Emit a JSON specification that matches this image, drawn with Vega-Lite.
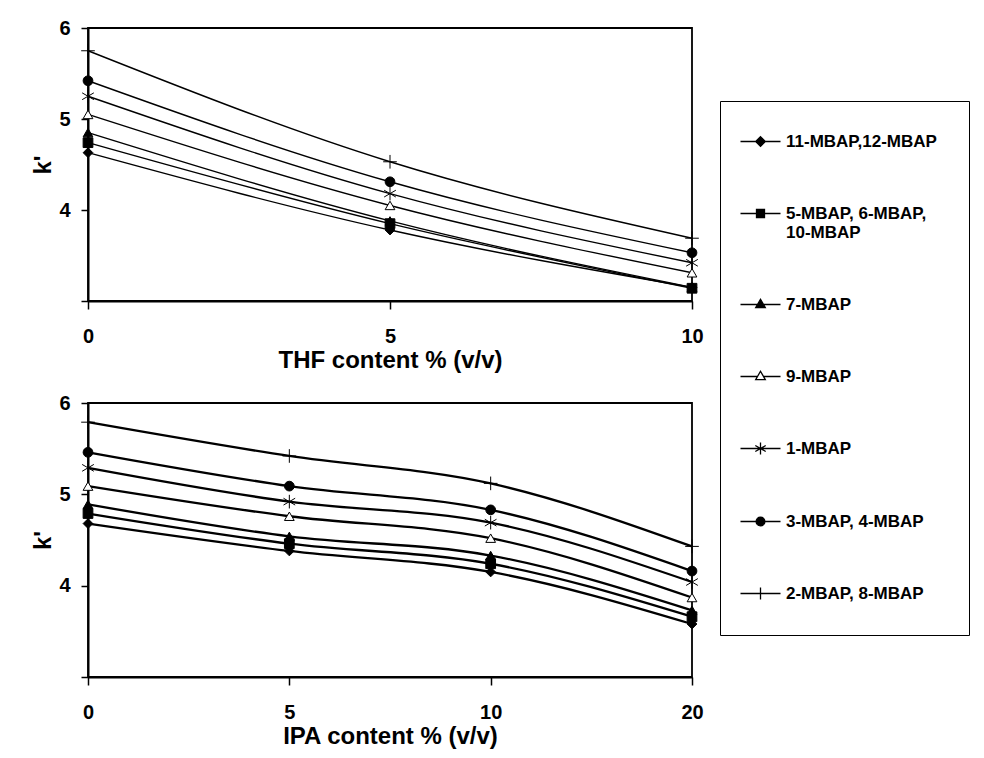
{
  "$schema": "https://vega.github.io/schema/vega-lite/v6.json",
  "background": "white",
  "padding": {"left": 30, "top": 17, "right": 0, "bottom": 0},
  "bounds": "flush",
  "spacing": 102,
  "datasets": {
    "thf": [
      {"series": "2-MBAP, 8-MBAP", "content": 0, "k": 5.75},
      {"series": "2-MBAP, 8-MBAP", "content": 5, "k": 4.53},
      {"series": "2-MBAP, 8-MBAP", "content": 10, "k": 3.69},
      {"series": "3-MBAP, 4-MBAP", "content": 0, "k": 5.42},
      {"series": "3-MBAP, 4-MBAP", "content": 5, "k": 4.31},
      {"series": "3-MBAP, 4-MBAP", "content": 10, "k": 3.53},
      {"series": "1-MBAP", "content": 0, "k": 5.25},
      {"series": "1-MBAP", "content": 5, "k": 4.18},
      {"series": "1-MBAP", "content": 10, "k": 3.42},
      {"series": "9-MBAP", "content": 0, "k": 5.05},
      {"series": "9-MBAP", "content": 5, "k": 4.05},
      {"series": "9-MBAP", "content": 10, "k": 3.31},
      {"series": "7-MBAP", "content": 0, "k": 4.85},
      {"series": "7-MBAP", "content": 5, "k": 3.88},
      {"series": "7-MBAP", "content": 10, "k": 3.15},
      {"series": "5-MBAP, 6-MBAP, 10-MBAP", "content": 0, "k": 4.74},
      {"series": "5-MBAP, 6-MBAP, 10-MBAP", "content": 5, "k": 3.85},
      {"series": "5-MBAP, 6-MBAP, 10-MBAP", "content": 10, "k": 3.14},
      {"series": "11-MBAP,12-MBAP", "content": 0, "k": 4.63},
      {"series": "11-MBAP,12-MBAP", "content": 5, "k": 3.78},
      {"series": "11-MBAP,12-MBAP", "content": 10, "k": 3.15}
    ],
    "ipa": [
      {"series": "2-MBAP, 8-MBAP", "content": 0, "k": 5.79},
      {"series": "2-MBAP, 8-MBAP", "content": 5, "k": 5.42},
      {"series": "2-MBAP, 8-MBAP", "content": 10, "k": 5.12},
      {"series": "2-MBAP, 8-MBAP", "content": 20, "k": 4.43},
      {"series": "3-MBAP, 4-MBAP", "content": 0, "k": 5.46},
      {"series": "3-MBAP, 4-MBAP", "content": 5, "k": 5.09},
      {"series": "3-MBAP, 4-MBAP", "content": 10, "k": 4.83},
      {"series": "3-MBAP, 4-MBAP", "content": 20, "k": 4.16},
      {"series": "1-MBAP", "content": 0, "k": 5.29},
      {"series": "1-MBAP", "content": 5, "k": 4.92},
      {"series": "1-MBAP", "content": 10, "k": 4.69},
      {"series": "1-MBAP", "content": 20, "k": 4.04},
      {"series": "9-MBAP", "content": 0, "k": 5.09},
      {"series": "9-MBAP", "content": 5, "k": 4.76},
      {"series": "9-MBAP", "content": 10, "k": 4.52},
      {"series": "9-MBAP", "content": 20, "k": 3.87},
      {"series": "7-MBAP", "content": 0, "k": 4.89},
      {"series": "7-MBAP", "content": 5, "k": 4.54},
      {"series": "7-MBAP", "content": 10, "k": 4.33},
      {"series": "7-MBAP", "content": 20, "k": 3.73},
      {"series": "5-MBAP, 6-MBAP, 10-MBAP", "content": 0, "k": 4.79},
      {"series": "5-MBAP, 6-MBAP, 10-MBAP", "content": 5, "k": 4.46},
      {"series": "5-MBAP, 6-MBAP, 10-MBAP", "content": 10, "k": 4.24},
      {"series": "5-MBAP, 6-MBAP, 10-MBAP", "content": 20, "k": 3.66},
      {"series": "11-MBAP,12-MBAP", "content": 0, "k": 4.68},
      {"series": "11-MBAP,12-MBAP", "content": 5, "k": 4.38},
      {"series": "11-MBAP,12-MBAP", "content": 10, "k": 4.15},
      {"series": "11-MBAP,12-MBAP", "content": 20, "k": 3.58}
    ]
  },
  "config": {
    "view": {"stroke": "black", "strokeWidth": 1.8},
    "axis": {
      "grid": false,
      "domainColor": "black", "domainWidth": 2,
      "tickColor": "black", "tickWidth": 1.5, "tickSize": 7,
      "labelFont": "Liberation Sans", "labelFontWeight": "bold", "labelFontSize": 20, "labelColor": "black",
      "titleFont": "Liberation Sans", "titleFontWeight": "bold", "titleFontSize": 24, "titleColor": "black"
    }
  },
  "resolve": {"scale": {"shape": "independent", "fill": "independent"}},
  "vconcat": [
    {
      "width": 604, "height": 273,
      "data": {"name": "thf"},
      "resolve": {"scale": {"shape": "independent", "fill": "independent"}},
      "layer": [
        {
          "mark": {"type": "line", "interpolate": "monotone", "color": "black", "strokeWidth": 1.4},
          "encoding": {
            "x": {"field": "content", "type": "quantitative", "scale": {"domain": [0, 10]},
                  "axis": {"values": [0, 5, 10], "format": "d", "title": "THF content % (v/v)", "labelFlush": false, "labelPadding": 17, "titlePadding": 2, "tickSize": 8}},
            "y": {"field": "k", "type": "quantitative", "scale": {"domain": [3, 6], "zero": false, "nice": false},
                  "axis": {"values": [3, 4, 5, 6], "format": "d", "labelExpr": "datum.value == 3 ? '' : datum.label", "title": "k'", "labelPadding": 11, "titlePadding": 3}},
            "detail": {"field": "series"}
          }
        },
        {
          "mark": {"type": "point", "filled": true, "stroke": "black", "strokeWidth": 1, "size": 95, "opacity": 1},
          "encoding": {
            "x": {"field": "content", "type": "quantitative"},
            "y": {"field": "k", "type": "quantitative"},
            "shape": {"field": "series", "legend": null,
              "scale": {"domain": ["11-MBAP,12-MBAP", "5-MBAP, 6-MBAP, 10-MBAP", "7-MBAP", "9-MBAP", "1-MBAP", "3-MBAP, 4-MBAP", "2-MBAP, 8-MBAP"],
                        "range": ["diamond", "square", "triangle-up", "triangle-up", "M0,-1.4V1.4M-1.2,-0.7L1.2,0.7M-1.2,0.7L1.2,-0.7", "circle", "M-1.4,0H1.4M0,-1.4V1.4"]}},
            "fill": {"field": "series", "legend": null,
              "scale": {"domain": ["11-MBAP,12-MBAP", "5-MBAP, 6-MBAP, 10-MBAP", "7-MBAP", "9-MBAP", "1-MBAP", "3-MBAP, 4-MBAP", "2-MBAP, 8-MBAP"],
                        "range": ["black", "black", "black", "white", "transparent", "black", "transparent"]}}
          }
        },
        {
          "transform": [{"filter": "false"}],
          "mark": {"type": "point", "filled": true, "stroke": "black", "strokeWidth": 1.3, "opacity": 1},
          "encoding": {
            "x": {"field": "content", "type": "quantitative"},
            "y": {"field": "k", "type": "quantitative"},
            "shape": {"field": "series",
              "scale": {"domain": ["11-MBAP,12-MBAP", "5-MBAP, 6-MBAP, 10-MBAP", "7-MBAP", "9-MBAP", "1-MBAP", "3-MBAP, 4-MBAP", "2-MBAP, 8-MBAP"],
                        "range": [
                          "M-5,0H5M0,-1.2L1.2,0L0,1.2L-1.2,0Z",
                          "M-5,0H5M-1,-1H1V1H-1Z",
                          "M-5,0H5M0,-1.3L1.2,0.8H-1.2Z",
                          "M-5,0H-0.74M0.74,0H5M0,-1.3L1.2,0.8H-1.2Z",
                          "M-5,0H5M0,-1.5V1.5M-1.3,-0.75L1.3,0.75M-1.3,0.75L1.3,-0.75",
                          "M-5,0H5M1.1,0A1.1,1.1,0,1,1,-1.1,0A1.1,1.1,0,1,1,1.1,0Z",
                          "M-5,0H5M0,-1.5V1.5"
                        ]},
              "legend": {"orient": "none", "legendX": 632, "legendY": 73, "title": null, "padding": 32,
                         "strokeColor": "black", "rowPadding": 54, "labelOffset": 17, "symbolSize": 64,
                         "labelFont": "Liberation Sans", "labelFontWeight": "bold", "labelFontSize": 17, "labelColor": "black",
                         "symbolStrokeColor": "black", "symbolStrokeWidth": 1.3, "symbolOpacity": 1, "labelLimit": 300,
                         "labelExpr": "datum.label == '5-MBAP, 6-MBAP, 10-MBAP' ? ['5-MBAP, 6-MBAP,', ' 10-MBAP'] : datum.label",
                         "encode": {"symbols": {"update": {"stroke": {"value": "black"}, "strokeWidth": {"value": 1.3}, "opacity": {"value": 1}}}}}},
            "fill": {"field": "series",
              "scale": {"domain": ["11-MBAP,12-MBAP", "5-MBAP, 6-MBAP, 10-MBAP", "7-MBAP", "9-MBAP", "1-MBAP", "3-MBAP, 4-MBAP", "2-MBAP, 8-MBAP"],
                        "range": ["black", "black", "black", "white", "transparent", "black", "transparent"]},
              "legend": {"orient": "none", "legendX": 632, "legendY": 73, "title": null, "padding": 32,
                         "strokeColor": "black", "rowPadding": 54, "labelOffset": 17, "symbolSize": 64,
                         "labelFont": "Liberation Sans", "labelFontWeight": "bold", "labelFontSize": 17, "labelColor": "black",
                         "symbolStrokeColor": "black", "symbolStrokeWidth": 1.3, "symbolOpacity": 1, "labelLimit": 300,
                         "labelExpr": "datum.label == '5-MBAP, 6-MBAP, 10-MBAP' ? ['5-MBAP, 6-MBAP,', ' 10-MBAP'] : datum.label",
                         "encode": {"symbols": {"update": {"stroke": {"value": "black"}, "strokeWidth": {"value": 1.3}, "opacity": {"value": 1}}}}}}
          }
        }
      ]
    },
    {
      "width": 604, "height": 274,
      "data": {"name": "ipa"},
      "layer": [
        {
          "mark": {"type": "line", "interpolate": "monotone", "color": "black", "strokeWidth": 2.3},
          "encoding": {
            "x": {"field": "content", "type": "ordinal", "scale": {"type": "point", "padding": 0},
                  "axis": {"labelAngle": 0, "title": "IPA content % (v/v)", "labelPadding": 17, "titlePadding": 2, "tickSize": 8}},
            "y": {"field": "k", "type": "quantitative", "scale": {"domain": [3, 6], "zero": false, "nice": false},
                  "axis": {"values": [3, 4, 5, 6], "format": "d", "labelExpr": "datum.value == 3 ? '' : datum.label", "title": "k'", "labelPadding": 11, "titlePadding": 3}},
            "detail": {"field": "series"}
          }
        },
        {
          "mark": {"type": "point", "filled": true, "stroke": "black", "strokeWidth": 1, "size": 95, "opacity": 1},
          "encoding": {
            "x": {"field": "content", "type": "ordinal"},
            "y": {"field": "k", "type": "quantitative"},
            "shape": {"field": "series", "legend": null,
              "scale": {"domain": ["11-MBAP,12-MBAP", "5-MBAP, 6-MBAP, 10-MBAP", "7-MBAP", "9-MBAP", "1-MBAP", "3-MBAP, 4-MBAP", "2-MBAP, 8-MBAP"],
                        "range": ["diamond", "square", "triangle-up", "triangle-up", "M0,-1.4V1.4M-1.2,-0.7L1.2,0.7M-1.2,0.7L1.2,-0.7", "circle", "M-1.4,0H1.4M0,-1.4V1.4"]}},
            "fill": {"field": "series", "legend": null,
              "scale": {"domain": ["11-MBAP,12-MBAP", "5-MBAP, 6-MBAP, 10-MBAP", "7-MBAP", "9-MBAP", "1-MBAP", "3-MBAP, 4-MBAP", "2-MBAP, 8-MBAP"],
                        "range": ["black", "black", "black", "white", "transparent", "black", "transparent"]}}
          }
        }
      ]
    }
  ]
}
